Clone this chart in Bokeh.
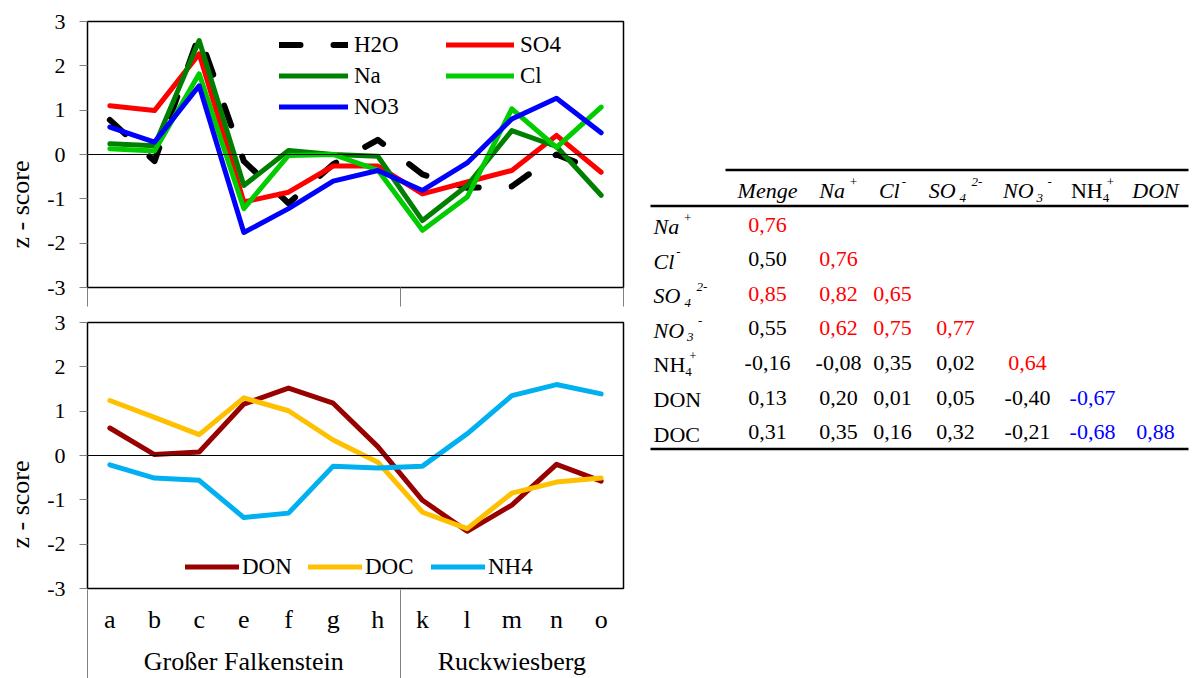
import numpy as np
from bokeh.plotting import figure
from bokeh.models import (ColumnDataSource, FixedTicker, LinearAxis, Span, Legend,
                          LegendItem, Range1d)
from bokeh.layouts import row, column
from bokeh.embed import file_html
from bokeh.resources import INLINE
from bokeh.core.properties import value

# ---------------- data ----------------
categories = ["a", "b", "c", "e", "f", "g", "h", "k", "l", "m", "n", "o"]
sites = ["Großer Falkenstein", "Ruckwiesberg"]
site_counts = [7, 5]
y_title = "z - score"

h2o = [0.78, -0.15, 2.70, -0.15, -1.10, -0.22, 0.33, -0.45, -0.75, -0.72, 0.00, -0.40]
so4 = [1.10, 0.99, 2.27, -1.07, -0.85, -0.26, -0.26, -0.89, -0.62, -0.36, 0.43, -0.40]
na = [0.24, 0.20, 2.57, -0.70, 0.09, 0.00, -0.04, -1.49, -0.70, 0.54, 0.18, -0.92]
cl = [0.13, 0.08, 1.82, -1.22, -0.02, 0.00, -0.35, -1.71, -0.96, 1.03, 0.16, 1.07]
no3 = [0.62, 0.28, 1.55, -1.76, -1.22, -0.60, -0.36, -0.81, -0.19, 0.80, 1.27, 0.49]

don = [0.62, 0.02, 0.08, 1.16, 1.52, 1.18, 0.20, -1.01, -1.71, -1.12, -0.20, -0.58]
doc = [1.24, 0.86, 0.47, 1.30, 1.01, 0.35, -0.15, -1.28, -1.65, -0.85, -0.60, -0.51]
nh4 = [-0.21, -0.51, -0.56, -1.40, -1.30, -0.24, -0.28, -0.24, 0.49, 1.35, 1.60, 1.39]

# correlation table (lower triangle)
col_labels = [("Menge", "", "", True), ("Na", "", "+", True), ("Cl", "", "-", True),
              ("SO", "4", "2-", True), ("NO", "3", "-", True), ("NH", "4", "+", False),
              ("DON", "", "", True)]
row_labels = [("Na", "", "+", True), ("Cl", "", "-", True), ("SO", "4", "2-", True),
              ("NO", "3", "-", True), ("NH", "4", "+", False), ("DON", "", "", False),
              ("DOC", "", "", False)]
corr = [[0.76],
        [0.50, 0.76],
        [0.85, 0.82, 0.65],
        [0.55, 0.62, 0.75, 0.77],
        [-0.16, -0.08, 0.35, 0.02, 0.64],
        [0.13, 0.20, 0.01, 0.05, -0.40, -0.67],
        [0.31, 0.35, 0.16, 0.32, -0.21, -0.68, 0.88]]
marks = [["r"],
         ["", "r"],
         ["r", "r", "r"],
         ["", "r", "r", "r"],
         ["", "", "", "", "r"],
         ["", "", "", "", "", "b"],
         ["", "", "", "", "", "b", "b"]]

# ---------------- style ----------------
FONT = "Liberation Serif"
GRAY = "#808080"
MARK_COLORS = {"r": "#FF0000", "b": "#0000FF", "": "black"}
H = 678
STRIP = 40

n = len(categories)
xs = list(range(n))
bounds = [float(b) for b in (np.cumsum([0] + site_counts) - 0.5)]
group_centers = [int((bounds[i] + bounds[i + 1]) / 2) for i in range(len(sites))]


def base_chart(h, top, bottom):
    p = figure(width=626 - STRIP, height=h, x_range=Range1d(-0.5, n - 0.5),
               y_range=Range1d(-3, 3), output_backend="svg", toolbar_location=None,
               min_border_left=87 - STRIP, min_border_right=3, min_border_top=top,
               min_border_bottom=bottom)
    p.grid.visible = False
    p.outline_line_color = "black"
    p.outline_line_width = 1.5
    yax = p.yaxis[0]
    yax.ticker = FixedTicker(ticks=list(range(-3, 4)))
    yax.major_label_overrides = {i: str(i) for i in range(-3, 4)}
    yax.major_label_text_font = FONT
    yax.major_label_text_font_size = "22px"
    yax.major_label_text_color = "black"
    yax.major_tick_out = 8
    yax.major_tick_in = 0
    yax.major_tick_line_color = GRAY
    yax.minor_tick_line_color = None
    yax.axis_line_color = "black"
    yax.major_label_standoff = 14
    p.add_layout(Span(location=0, dimension="width", line_color="black", line_width=1))
    return p


def mk_legend(items, loc, orient, gw, standoff, lw=20, spacing=0):
    return Legend(items=items, location=loc, orientation=orient, glyph_width=gw,
                  glyph_height=31, label_height=31, label_width=lw,
                  label_standoff=standoff, spacing=spacing, padding=0, margin=0,
                  border_line_color=None, background_fill_alpha=0,
                  label_text_font=FONT, label_text_font_size="23px",
                  label_text_color="black")


# ---------------- left strip with the axis titles ----------------
ps = figure(width=STRIP, height=H, x_range=Range1d(0, STRIP), y_range=Range1d(H, 0),
            min_border=0, x_axis_location=None, y_axis_location=None,
            toolbar_location=None, output_backend="svg")
ps.outline_line_color = None
ps.grid.visible = False
ps.text(x=[20, 20], y=[204, 504], text=[y_title, y_title], angle=np.pi / 2,
        text_align="center", text_baseline="middle", text_font=value(FONT),
        text_font_size="26px", text_color="black")

# ---------------- top chart ----------------
p1 = base_chart(310, 21, 23)
ax = p1.xaxis[0]
ax.ticker = FixedTicker(ticks=[], minor_ticks=bounds)
ax.major_tick_out = 0
ax.major_tick_in = 0
ax.minor_tick_out = 19
ax.minor_tick_in = 0
ax.minor_tick_line_color = GRAY
ax.axis_line_color = None

top_series = [("H2O", h2o, "black", 6, "21 33"),
              ("SO4", so4, "#FF0000", 5, "solid"),
              ("Na", na, "#008000", 5, "solid"),
              ("Cl", cl, "#00CC00", 5, "solid"),
              ("NO3", no3, "#0000FF", 5, "solid")]
rend = {}
for name, vals, col, w, dash in top_series:
    rend[name] = p1.line(xs, vals, line_color=col, line_width=w, line_dash=dash,
                         line_join="round", line_cap="round")

p1.add_layout(mk_legend([LegendItem(label=k, renderers=[rend[k]]) for k in ["H2O", "Na", "NO3"]],
                        (192, 165), "vertical", 69, 6))
p1.add_layout(mk_legend([LegendItem(label=k, renderers=[rend[k]]) for k in ["SO4", "Cl"]],
                        (359, 196), "vertical", 68, 6))

# ---------------- bottom chart ----------------
p2 = base_chart(H - 310, 12, 90)
ax1 = p2.xaxis[0]
ax1.ticker = FixedTicker(ticks=xs)
ax1.major_label_overrides = {i: c for i, c in enumerate(categories)}
ax1.major_label_text_font = FONT
ax1.major_label_text_font_size = "26px"
ax1.major_label_text_color = "black"
ax1.major_tick_out = 0
ax1.major_tick_in = 0
ax1.major_tick_line_color = None
ax1.minor_tick_line_color = None
ax1.axis_line_color = None
ax1.major_label_standoff = 16

# site-group labels; its minor ticks are the group separators running from the
# plot frame down to the bottom edge
SEP_OUT = 46
ax2 = LinearAxis(ticker=FixedTicker(ticks=group_centers, minor_ticks=bounds[:2]),
                 major_label_overrides={c: s for c, s in zip(group_centers, sites)},
                 major_label_text_font=FONT, major_label_text_font_size="26px",
                 major_label_text_color="black", major_tick_out=0, major_tick_in=0,
                 major_tick_line_color=None, minor_tick_line_color=GRAY,
                 minor_tick_in=47, minor_tick_out=SEP_OUT,
                 axis_line_color=None, major_label_standoff=10 - SEP_OUT)
p2.add_layout(ax2, "below")

bot_series = [("DON", don, "#990000"), ("DOC", doc, "#FFC000"), ("NH4", nh4, "#00B0F0")]
items = []
for name, vals, col in bot_series:
    r = p2.line(xs, vals, line_color=col, line_width=5, line_join="round", line_cap="round")
    items.append(LegendItem(label=name, renderers=[r]))
p2.add_layout(mk_legend(items, (98, 6), "horizontal", 54, 3, lw=64, spacing=2))

# ---------------- table ----------------
pt = figure(width=568, height=H, x_range=Range1d(626, 1194), y_range=Range1d(H, 0),
            min_border=0, x_axis_location=None, y_axis_location=None,
            toolbar_location=None, output_backend="svg")
pt.outline_line_color = None
pt.grid.visible = False

W_R = {'N': 722, 'a': 444, 'H': 722, 'O': 722, 'D': 722, 'C': 667, 'S': 556, 'l': 278,
       'M': 889, 'e': 444, 'n': 500, 'g': 500, '+': 564, '-': 333}
W_I = {'N': 667, 'a': 500, 'O': 722, 'D': 722, 'C': 667, 'S': 500, 'l': 278,
       'M': 833, 'e': 444, 'n': 500, 'g': 500, '+': 675, '-': 333}


def tw(s, size, italic):
    tab = W_I if italic else W_R
    return sum(tab.get(ch, 500) for ch in s) * size / 1000.0


BASE, SMALL = 22, 13
SUB_DX = {"SO": 4, "NO": 3, "NH": 0}
SUP_DX = {"Na": 4, "Cl": 2, "SO": 16, "NO": 14, "NH": 4}
col_centers = [767, 838, 892, 955, 1027, 1092, 1155]
row_x = 653
head_y = 190
row_y0, row_pitch = 224, 34.6

big = dict(x=[], y=[], text=[], style=[])
small = dict(x=[], y=[], text=[], style=[])


def put_label(lab, left, y):
    base, sub, sup, italic = lab
    st = "italic" if italic else "normal"
    big["x"].append(left); big["y"].append(y); big["text"].append(base); big["style"].append(st)
    end = left + tw(base, BASE, italic)
    if sub:
        small["x"].append(end + SUB_DX.get(base, 2)); small["y"].append(y + 7)
        small["text"].append(sub); small["style"].append(st)
    if sup:
        small["x"].append(end + SUP_DX.get(base, 2)); small["y"].append(y - 9)
        small["text"].append(sup); small["style"].append(st)


def label_width(lab):
    base, sub, sup, italic = lab
    w = tw(base, BASE, italic)
    extra = 0
    if sub:
        extra = max(extra, SUB_DX.get(base, 2) + tw(sub, SMALL, italic))
    if sup:
        extra = max(extra, SUP_DX.get(base, 2) + tw(sup, SMALL, italic))
    return w + extra


for lab, cx in zip(col_labels, col_centers):
    put_label(lab, cx - label_width(lab) / 2, head_y)
for i, lab in enumerate(row_labels):
    put_label(lab, row_x, row_y0 + i * row_pitch + 2)

vals = dict(x=[], y=[], text=[], color=[])
for i, (rv, rm) in enumerate(zip(corr, marks)):
    for j, (v, m) in enumerate(zip(rv, rm)):
        vals["x"].append(col_centers[j])
        vals["y"].append(row_y0 + i * row_pitch)
        vals["text"].append(f"{v:.2f}".replace(".", ","))
        vals["color"].append(MARK_COLORS[m])

pt.text(x="x", y="y", text="text", source=ColumnDataSource(big), text_font=value(FONT),
        text_font_size=f"{BASE}px", text_font_style="style", text_align="left",
        text_baseline="middle", text_color="black")
pt.text(x="x", y="y", text="text", source=ColumnDataSource(small), text_font=value(FONT),
        text_font_size=f"{SMALL}px", text_font_style="style", text_align="left",
        text_baseline="middle", text_color="black")
pt.text(x="x", y="y", text="text", source=ColumnDataSource(vals), text_font=value(FONT),
        text_font_size=f"{BASE}px", text_align="center", text_baseline="middle",
        text_color="color")

rules = dict(x0=[725, 650, 650], x1=[1188, 1188, 1188], y=[169.5, 205.5, 448.5])
pt.segment(x0="x0", x1="x1", y0="y", y1="y", source=ColumnDataSource(rules),
           line_color="black", line_width=2.5)

layout = row(ps, column(p1, p2), pt)
open("out.html", "w").write(file_html(layout, INLINE))
